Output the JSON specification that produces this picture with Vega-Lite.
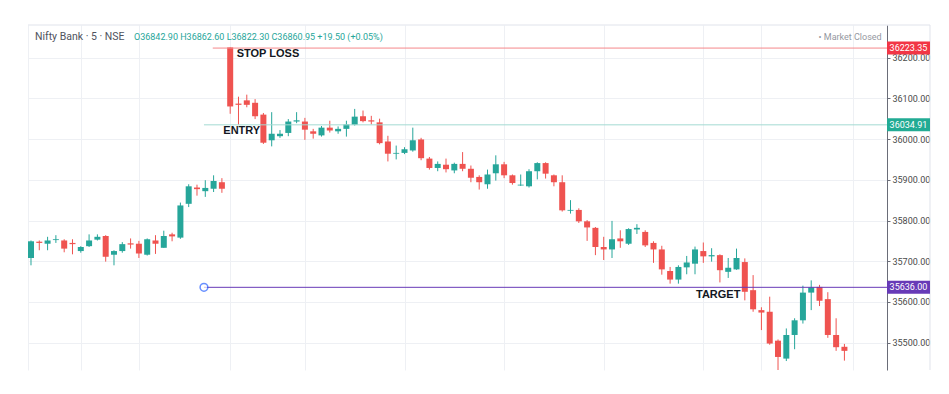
{
  "$schema": "https://vega.github.io/schema/vega-lite/v6.json",
  "width": 859,
  "height": 345,
  "autosize": "none",
  "padding": {"left": 28, "top": 25, "right": 62, "bottom": 24},
  "background": "white",
  "config": {"view": {"stroke": null}, "font": "Roboto"},
  "datasets": {
    "candles": [
      {"i":0,"o":35708,"h":35751,"l":35690,"c":35749},
      {"i":1,"o":35748,"h":35751,"l":35727,"c":35745},
      {"i":2,"o":35743,"h":35760,"l":35727,"c":35751},
      {"i":3,"o":35752,"h":35764,"l":35745,"c":35754},
      {"i":4,"o":35751,"h":35754,"l":35722,"c":35731},
      {"i":5,"o":35745,"h":35754,"l":35717,"c":35742},
      {"i":6,"o":35725,"h":35737,"l":35721,"c":35735},
      {"i":7,"o":35737,"h":35766,"l":35735,"c":35751},
      {"i":8,"o":35753,"h":35766,"l":35751,"c":35760},
      {"i":9,"o":35762,"h":35764,"l":35699,"c":35711},
      {"i":10,"o":35716,"h":35727,"l":35690,"c":35725},
      {"i":11,"o":35725,"h":35747,"l":35721,"c":35742},
      {"i":12,"o":35744,"h":35756,"l":35731,"c":35741},
      {"i":13,"o":35743,"h":35750,"l":35708,"c":35719},
      {"i":14,"o":35716,"h":35756,"l":35714,"c":35754},
      {"i":15,"o":35751,"h":35764,"l":35718,"c":35743},
      {"i":16,"o":35733,"h":35775,"l":35733,"c":35762},
      {"i":17,"o":35766,"h":35770,"l":35749,"c":35761},
      {"i":18,"o":35758,"h":35844,"l":35755,"c":35837},
      {"i":19,"o":35841,"h":35889,"l":35833,"c":35884},
      {"i":20,"o":35881,"h":35888,"l":35861,"c":35877},
      {"i":21,"o":35872,"h":35899,"l":35858,"c":35880},
      {"i":22,"o":35878,"h":35911,"l":35870,"c":35897},
      {"i":23,"o":35894,"h":35904,"l":35868,"c":35878},
      {"i":24,"o":36225,"h":36225,"l":36062,"c":36080},
      {"i":25,"o":36087,"h":36104,"l":36035,"c":36084},
      {"i":26,"o":36095,"h":36109,"l":36078,"c":36084},
      {"i":27,"o":36089,"h":36098,"l":36049,"c":36056},
      {"i":28,"o":36060,"h":36064,"l":35988,"c":35991},
      {"i":29,"o":35997,"h":36066,"l":35982,"c":36013},
      {"i":30,"o":36007,"h":36022,"l":36003,"c":36013},
      {"i":31,"o":36015,"h":36049,"l":36007,"c":36043},
      {"i":32,"o":36043,"h":36066,"l":36039,"c":36046},
      {"i":33,"o":36043,"h":36052,"l":35998,"c":36023},
      {"i":34,"o":36019,"h":36025,"l":36001,"c":36013},
      {"i":35,"o":36009,"h":36032,"l":36006,"c":36028},
      {"i":36,"o":36028,"h":36045,"l":36016,"c":36021},
      {"i":37,"o":36019,"h":36031,"l":36013,"c":36025},
      {"i":38,"o":36025,"h":36045,"l":36006,"c":36036},
      {"i":39,"o":36035,"h":36074,"l":36033,"c":36055},
      {"i":40,"o":36056,"h":36070,"l":36041,"c":36044},
      {"i":41,"o":36046,"h":36057,"l":36036,"c":36043},
      {"i":42,"o":36041,"h":36050,"l":35987,"c":35990},
      {"i":43,"o":35994,"h":36008,"l":35945,"c":35964},
      {"i":44,"o":35964,"h":35984,"l":35950,"c":35966},
      {"i":45,"o":35966,"h":35980,"l":35963,"c":35975},
      {"i":46,"o":35972,"h":36028,"l":35969,"c":35997},
      {"i":47,"o":35999,"h":36003,"l":35948,"c":35953},
      {"i":48,"o":35952,"h":35956,"l":35925,"c":35929},
      {"i":49,"o":35929,"h":35945,"l":35921,"c":35939},
      {"i":50,"o":35937,"h":35952,"l":35918,"c":35926},
      {"i":51,"o":35923,"h":35942,"l":35916,"c":35939},
      {"i":52,"o":35939,"h":35968,"l":35921,"c":35927},
      {"i":53,"o":35927,"h":35935,"l":35894,"c":35905},
      {"i":54,"o":35907,"h":35911,"l":35876,"c":35894},
      {"i":55,"o":35889,"h":35925,"l":35878,"c":35913},
      {"i":56,"o":35916,"h":35960,"l":35898,"c":35938},
      {"i":57,"o":35938,"h":35944,"l":35904,"c":35911},
      {"i":58,"o":35911,"h":35913,"l":35888,"c":35892},
      {"i":59,"o":35886,"h":35913,"l":35885,"c":35888},
      {"i":60,"o":35884,"h":35926,"l":35881,"c":35921},
      {"i":61,"o":35921,"h":35943,"l":35901,"c":35941},
      {"i":62,"o":35941,"h":35943,"l":35903,"c":35915},
      {"i":63,"o":35911,"h":35913,"l":35884,"c":35894},
      {"i":64,"o":35894,"h":35911,"l":35822,"c":35825},
      {"i":65,"o":35824,"h":35850,"l":35817,"c":35826},
      {"i":66,"o":35826,"h":35830,"l":35794,"c":35798},
      {"i":67,"o":35798,"h":35801,"l":35750,"c":35783},
      {"i":68,"o":35782,"h":35784,"l":35715,"c":35735},
      {"i":69,"o":35735,"h":35760,"l":35703,"c":35729},
      {"i":70,"o":35729,"h":35799,"l":35708,"c":35754},
      {"i":71,"o":35756,"h":35776,"l":35733,"c":35749},
      {"i":72,"o":35743,"h":35781,"l":35740,"c":35779},
      {"i":73,"o":35778,"h":35791,"l":35767,"c":35782},
      {"i":74,"o":35772,"h":35776,"l":35735,"c":35739},
      {"i":75,"o":35745,"h":35749,"l":35696,"c":35729},
      {"i":76,"o":35729,"h":35738,"l":35667,"c":35680},
      {"i":77,"o":35676,"h":35686,"l":35645,"c":35655},
      {"i":78,"o":35655,"h":35690,"l":35645,"c":35686},
      {"i":79,"o":35685,"h":35713,"l":35668,"c":35697},
      {"i":80,"o":35694,"h":35736,"l":35668,"c":35729},
      {"i":81,"o":35725,"h":35746,"l":35696,"c":35712},
      {"i":82,"o":35712,"h":35732,"l":35699,"c":35715},
      {"i":83,"o":35715,"h":35717,"l":35648,"c":35678},
      {"i":84,"o":35674,"h":35708,"l":35659,"c":35684},
      {"i":85,"o":35680,"h":35731,"l":35679,"c":35708},
      {"i":86,"o":35698,"h":35707,"l":35604,"c":35625},
      {"i":87,"o":35629,"h":35666,"l":35576,"c":35582},
      {"i":88,"o":35580,"h":35587,"l":35531,"c":35574},
      {"i":89,"o":35576,"h":35613,"l":35495,"c":35498},
      {"i":90,"o":35505,"h":35508,"l":35433,"c":35465},
      {"i":91,"o":35461,"h":35535,"l":35455,"c":35519},
      {"i":92,"o":35519,"h":35560,"l":35484,"c":35555},
      {"i":93,"o":35555,"h":35640,"l":35547,"c":35623},
      {"i":94,"o":35623,"h":35653,"l":35580,"c":35636},
      {"i":95,"o":35637,"h":35642,"l":35590,"c":35603},
      {"i":96,"o":35607,"h":35624,"l":35512,"c":35519},
      {"i":97,"o":35519,"h":35560,"l":35480,"c":35489},
      {"i":98,"o":35490,"h":35497,"l":35456,"c":35480}
    ],
    "levels": [
      {"kind":"sl","x0":21.9,"v":36223.35,"lab":"36223.35"},
      {"kind":"entry","x0":20.84,"v":36034.91,"lab":"36034.91"},
      {"kind":"target","x0":20.84,"v":35636.0,"lab":"35636.00"}
    ],
    "notes": [
      {"t":"STOP LOSS","x":24.78,"y":36209},
      {"t":"ENTRY","x":23.17,"y":36019},
      {"t":"TARGET","x":80.12,"y":35618}
    ],
    "borders": [
      {"x":-0.36,"x2":108.31,"y":36280,"y2":36280},
      {"x":108.31,"x2":108.31,"y":35433,"y2":36280}
    ]
  },
  "layer": [
    {
      "data": {"name": "borders"},
      "mark": {"type": "rule", "color": "#e0e3eb", "strokeWidth": 1, "clip": false},
      "encoding": {
        "x": {"field": "x", "type": "quantitative", "scale": {"domain": [-0.36, 103.13], "nice": false, "zero": false, "padding": 0},
              "axis": {"orient": "bottom", "values": [-0.36, 6, 13, 24, 33, 45, 57, 69, 81, 88, 99], "labels": false, "ticks": false, "domain": false, "grid": true, "gridColor": "#eef0f4", "title": null}},
        "x2": {"field": "x2"},
        "y": {"field": "y", "type": "quantitative", "scale": {"domain": [35433, 36280], "nice": false, "zero": false, "padding": 0},
              "axis": {"orient": "right", "values": [35500, 35600, 35700, 35800, 35900, 36000, 36100, 36200], "format": ".2f", "title": null, "grid": true, "gridColor": "#eef0f4", "domainColor": "#6a6d78", "tickColor": "#6a6d78", "tickSize": 3, "labelColor": "#4a4a4a", "labelFontSize": 9, "labelPadding": 2, "labelFont": "Roboto"}},
        "y2": {"field": "y2"}
      }
    },
    {
      "data": {"name": "candles"},
      "mark": {"type": "rule", "strokeWidth": 1},
      "encoding": {
        "x": {"field": "i", "type": "quantitative", "title": null},
        "y": {"field": "l", "type": "quantitative", "title": null},
        "y2": {"field": "h"},
        "color": {"condition": {"test": "datum.c >= datum.o", "value": "#26a69a"}, "value": "#ef5350"}
      }
    },
    {
      "data": {"name": "candles"},
      "mark": {"type": "bar", "size": 6},
      "encoding": {
        "x": {"field": "i", "type": "quantitative", "title": null},
        "y": {"field": "o", "type": "quantitative", "title": null},
        "y2": {"field": "c"},
        "color": {"condition": {"test": "datum.c >= datum.o", "value": "#26a69a"}, "value": "#ef5350"}
      }
    },
    {
      "data": {"name": "levels"},
      "mark": {"type": "rule", "strokeWidth": 1},
      "encoding": {
        "x": {"field": "x0", "type": "quantitative", "title": null},
        "x2": {"datum": 103.13},
        "y": {"field": "v", "type": "quantitative", "title": null},
        "stroke": {"field": "kind", "type": "nominal", "scale": {"domain": ["sl", "entry", "target"], "range": ["#f5878b", "#a3dad2", "#673ab7"]}, "legend": null}
      }
    },
    {
      "data": {"name": "levels"},
      "mark": {"type": "bar", "orient": "horizontal", "size": 13, "clip": false},
      "encoding": {
        "x": {"datum": 103.13, "type": "quantitative"},
        "x2": {"datum": 108.31},
        "y": {"field": "v", "type": "quantitative", "title": null},
        "fill": {"field": "kind", "type": "nominal", "scale": {"domain": ["sl", "entry", "target"], "range": ["#f23645", "#22ab94", "#673ab7"]}, "legend": null}
      }
    },
    {
      "data": {"name": "levels"},
      "mark": {"type": "text", "color": "white", "fontSize": 9, "font": "Roboto", "align": "center", "baseline": "middle", "clip": false},
      "encoding": {
        "x": {"datum": 105.72, "type": "quantitative"},
        "y": {"field": "v", "type": "quantitative", "title": null},
        "text": {"field": "lab"}
      }
    },
    {
      "data": {"name": "notes"},
      "mark": {"type": "text", "font": "Liberation Sans", "fontWeight": "bold", "fontSize": 11, "color": "#131722", "align": "left", "baseline": "middle"},
      "encoding": {
        "x": {"field": "x", "type": "quantitative", "title": null},
        "y": {"field": "y", "type": "quantitative", "title": null},
        "text": {"field": "t"}
      }
    },
    {
      "data": {"values": [{"t": "Nifty Bank · 5 · NSE", "x": 0.48, "y": 36250.3}]},
      "mark": {"type": "text", "fontSize": 10.5, "color": "#50535e", "align": "left", "baseline": "middle"},
      "encoding": {
        "x": {"field": "x", "type": "quantitative", "title": null},
        "y": {"field": "y", "type": "quantitative", "title": null},
        "text": {"field": "t"}
      }
    },
    {
      "data": {"values": [{"t": "O36842.90  H36862.60  L36822.30  C36860.95  +19.50 (+0.05%)", "x": 12.41, "y": 36250.3}]},
      "mark": {"type": "text", "fontSize": 9, "color": "#26a69a", "align": "left", "baseline": "middle"},
      "encoding": {
        "x": {"field": "x", "type": "quantitative", "title": null},
        "y": {"field": "y", "type": "quantitative", "title": null},
        "text": {"field": "t"}
      }
    },
    {
      "data": {"values": [{"t": "• Market Closed", "x": 102.49, "y": 36250.3}]},
      "mark": {"type": "text", "fontSize": 9, "color": "#9598a1", "align": "right", "baseline": "middle"},
      "encoding": {
        "x": {"field": "x", "type": "quantitative", "title": null},
        "y": {"field": "y", "type": "quantitative", "title": null},
        "text": {"field": "t"}
      }
    },
    {
      "data": {"values": [{"x": 20.84, "v": 35636.0}]},
      "mark": {"type": "point", "shape": "circle", "size": 60, "filled": true, "fill": "white", "stroke": "#2962ff", "strokeWidth": 1.5},
      "encoding": {
        "x": {"field": "x", "type": "quantitative", "title": null},
        "y": {"field": "v", "type": "quantitative", "title": null}
      }
    }
  ]
}
